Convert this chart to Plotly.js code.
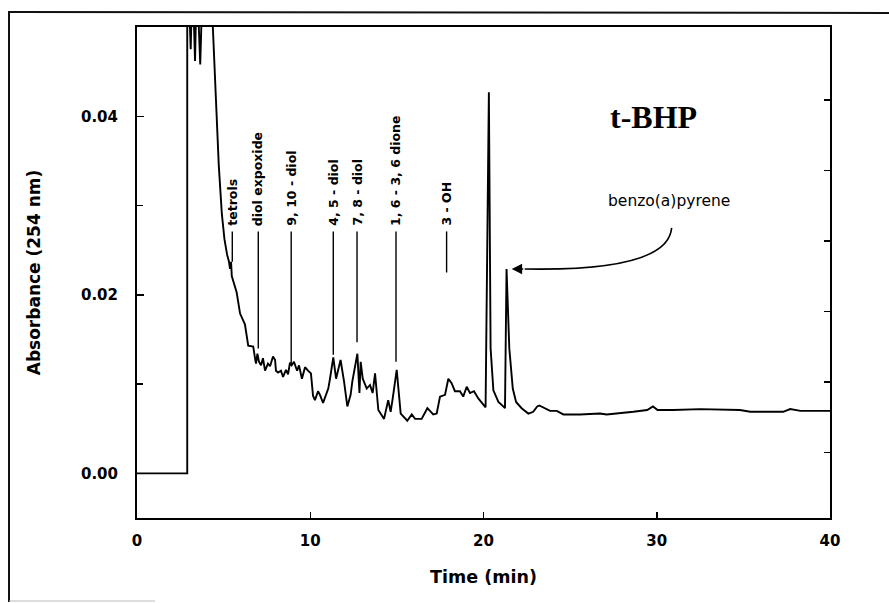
<!DOCTYPE html>
<html>
<head>
<meta charset="utf-8">
<script src="https://cdn.plot.ly/plotly-3.0.1.min.js"></script>
<style>html,body{margin:0;padding:0;background:#fff;}#chart{width:889px;height:603px;}</style>
</head>
<body>
<div id="chart"></div>
<script>
// ---- Data ----
const timeMin = [
  0, 2.9, 2.9, 2.95, 3.1, 3.2, 3.35, 3.45, 3.65, 3.8, 4.2, 4.38,
  4.55, 4.72, 4.90, 5.05, 5.20, 5.31, 5.37, 5.43, 5.47, 5.75, 5.95, 6.14, 6.23, 6.42, 6.71, 6.81, 6.87, 6.95,
  7.04, 7.16, 7.27, 7.39, 7.56, 7.68, 7.85, 7.97, 8.02, 8.14, 8.31, 8.43, 8.60, 8.72, 8.83, 8.93, 9.06, 9.24,
  9.35, 9.52, 9.70, 9.87, 10.04, 10.16, 10.27, 10.45, 10.56, 10.74, 10.91, 11.04, 11.14, 11.33, 11.49, 11.75,
  11.95, 12.14, 12.33, 12.43, 12.72, 12.84, 12.91, 13.03, 13.26, 13.45, 13.60, 13.74, 13.93, 14.26, 14.50,
  14.64, 14.76, 14.99, 15.22, 15.60, 15.86, 16.05, 16.43, 16.76, 17.10, 17.30, 17.49, 17.78, 17.97, 18.16,
  18.35, 18.64, 18.83, 19.03, 19.22, 19.45, 19.70, 20.12, 20.31, 20.41, 20.57, 20.86, 21.14, 21.24, 21.33,
  21.49, 21.69, 21.88, 22.20, 22.59, 22.87, 23.10, 23.22, 23.45, 23.84, 24.23, 24.61, 25.18, 25.57, 26.72,
  27.11, 28.65, 29.45, 29.78, 30.05, 30.96, 32.50, 34.80, 35.40, 37.30, 37.70, 38.30, 40.0
];
const absorbance = [
  0, 0, 0.056, 0.056, 0.0475, 0.056, 0.0462, 0.056, 0.0458, 0.056, 0.058, 0.0505,
  0.0420, 0.0345, 0.0290, 0.0262, 0.0245, 0.0237, 0.0229, 0.0237, 0.0221, 0.0203, 0.0179, 0.0171, 0.0167, 0.0143, 0.0142, 0.0129, 0.0123, 0.0134,
  0.0125, 0.0121, 0.0129, 0.0115, 0.0123, 0.0120, 0.0131, 0.0127, 0.0115, 0.0113, 0.0115, 0.0108, 0.0116, 0.0111, 0.0124, 0.0121, 0.0125, 0.0115,
  0.0121, 0.0106, 0.0119, 0.0115, 0.0112, 0.0087, 0.0082, 0.0092, 0.0088, 0.0079, 0.0089, 0.0095, 0.0106, 0.0130, 0.0106, 0.0127,
  0.0103, 0.0075, 0.0088, 0.0103, 0.0134, 0.0090, 0.0125, 0.0106, 0.0095, 0.0099, 0.0090, 0.0112, 0.0071, 0.0061, 0.0082,
  0.0069, 0.0084, 0.0116, 0.0067, 0.0059, 0.0066, 0.0061, 0.0061, 0.0073, 0.0066, 0.0067, 0.0086, 0.0088, 0.0106, 0.0101,
  0.0092, 0.0092, 0.0086, 0.0097, 0.0090, 0.0092, 0.0084, 0.0074, 0.0427, 0.0140, 0.0093, 0.0080, 0.0075, 0.0073, 0.0229,
  0.0140, 0.0095, 0.0080, 0.0073, 0.0067, 0.0069, 0.0075, 0.0076, 0.0074, 0.0070, 0.0070, 0.0066, 0.0066, 0.0066, 0.0067,
  0.0066, 0.0069, 0.0071, 0.0075, 0.0071, 0.0071, 0.0072, 0.0071, 0.0069, 0.0069, 0.0072, 0.0070, 0.0070
];

// Peak labels
const peakLabels   = ["tetrols", "diol expoxide", "9, 10 - diol", "4, 5 - diol", "7, 8 - diol", "1, 6 - 3, 6 dione", "3 - OH"];
const peakTimes    = [5.5, 7.0, 8.9, 11.33, 12.7, 14.95, 17.87];
const labelLineEnd = [0.0237, 0.0140, 0.0121, 0.0133, 0.0147, 0.0125, 0.0225];
const labelLineTop = 0.0271;
const labelTextBase = 0.0276;

const xTickVals = [0, 10, 20, 30, 40];
const yTickVals = [0.00, 0.02, 0.04];
const rightTickVals = [0, 1, 2, 3, 4, 5];

const plotTitle = "t-BHP";
const compoundName = "benzo(a)pyrene";

// ---- Layout geometry ----
const W = 889, H = 603;
const M = {l: 137, r: 59, t: 27, b: 85};
const pw = W - M.l - M.r, ph = H - M.t - M.b;
const px2paperX = p => (p - M.l) / pw;
const py2paperY = p => (H - M.b - p) / ph;

const trace = {
  x: timeMin, y: absorbance, type: 'scatter', mode: 'lines',
  line: {color: '#000', width: 1.9, shape: 'linear'},
  hoverinfo: 'skip', showlegend: false
};
const dummyRight = {x: [], y: [], yaxis: 'y2', type: 'scatter', showlegend: false, hoverinfo: 'skip'};

const shapes = [];
peakTimes.forEach((t, i) => {
  shapes.push({type: 'line', xref: 'x', yref: 'y', x0: t, x1: t, y0: labelLineTop, y1: labelLineEnd[i],
               line: {color: '#000', width: 1.4}});
});

// benzo(a)pyrene peak (for the arrow)
let bapI = 0, bapV = -1;
timeMin.forEach((t, i) => { if (t > 21 && t < 22 && absorbance[i] > bapV) { bapV = absorbance[i]; bapI = i; } });
const tipX = timeMin[bapI] + 0.3;
const arrowTailX = tipX + 0.75;
shapes.push({type: 'path', xref: 'x', yref: 'y',
  path: `M 30.86 0.0275 Q 30.65 0.0226 ${arrowTailX} ${bapV}`,
  line: {color: '#000', width: 1.6}});

// outer frame of the scanned figure
shapes.push({type: 'line', xref: 'paper', yref: 'paper', x0: px2paperX(9), x1: px2paperX(9), y0: py2paperY(11), y1: py2paperY(602), line: {color: '#111', width: 2}});
shapes.push({type: 'line', xref: 'paper', yref: 'paper', x0: px2paperX(9), x1: px2paperX(889), y0: py2paperY(12), y1: py2paperY(13), line: {color: '#111', width: 2}});
shapes.push({type: 'line', xref: 'paper', yref: 'paper', x0: px2paperX(9), x1: px2paperX(155), y0: py2paperY(601), y1: py2paperY(601), line: {color: '#bbb', width: 1}});

const lblFont = {family: 'DejaVu Sans', size: 12.5, color: '#000', weight: 'bold'};
const annotations = peakLabels.map((s, i) => ({
  x: peakTimes[i], y: labelTextBase, xref: 'x', yref: 'y', text: s, showarrow: false,
  textangle: -90, xanchor: 'center', yanchor: 'bottom', font: lblFont, borderpad: 0
}));
annotations.push({x: 29.8, y: 0.0399, xref: 'x', yref: 'y', text: '<b>' + plotTitle + '</b>', showarrow: false,
  font: {family: 'Liberation Serif', size: 32, color: '#000'}, xanchor: 'center', yanchor: 'middle'});
annotations.push({x: 30.71, y: 0.0305, xref: 'x', yref: 'y', text: compoundName, showarrow: false,
  font: {family: 'DejaVu Sans', size: 15.5, color: '#000'}, xanchor: 'center', yanchor: 'middle'});
annotations.push({x: tipX, y: bapV, xref: 'x', yref: 'y', text: '', showarrow: true,
  axref: 'x', ayref: 'y', ax: arrowTailX, ay: bapV,
  arrowhead: 2, arrowsize: 1.3, arrowwidth: 1.6, arrowcolor: '#000', standoff: 0});

const tickFont = {family: 'DejaVu Sans', size: 15, color: '#000', weight: 'bold'};
const layout = {
  width: W, height: H, margin: M,
  paper_bgcolor: '#fff', plot_bgcolor: '#fff',
  showlegend: false,
  xaxis: {
    range: [0, 40], tickvals: xTickVals, ticktext: xTickVals.map(String),
    ticks: 'inside', ticklen: 6, tickwidth: 1.5, tickcolor: '#000',
    showline: true, linecolor: '#000', linewidth: 2, mirror: true,
    showgrid: false, zeroline: false, tickfont: tickFont, ticklabelstandoff: 8,
    title: {text: 'Time (min)', font: {family: 'DejaVu Sans', size: 17.5, color: '#000', weight: 'bold'}, standoff: 22}
  },
  yaxis: {
    range: [-0.005, 0.05], tickvals: yTickVals, ticktext: yTickVals.map(v => v.toFixed(2)),
    ticks: 'inside', ticklen: 7, tickwidth: 1.5, tickcolor: '#000',
    minor: {tickvals: [0.01, 0.03], ticks: 'inside', ticklen: 6, tickwidth: 1.5, tickcolor: '#000', showgrid: false},
    showline: true, linecolor: '#000', linewidth: 2, mirror: true,
    showgrid: false, zeroline: false, tickfont: tickFont, ticklabelstandoff: 14,
    title: {text: 'Absorbance (254 nm)', font: {family: 'DejaVu Sans', size: 17, color: '#000', weight: 'bold'}, standoff: 36}
  },
  yaxis2: {
    overlaying: 'y', side: 'right', range: [-0.929, 6.035], tickvals: rightTickVals,
    showticklabels: false, ticks: 'inside', ticklen: 6, tickwidth: 1.5, tickcolor: '#000',
    showline: false, showgrid: false, zeroline: false
  },
  shapes: shapes,
  annotations: annotations
};

Plotly.newPlot('chart', [trace, dummyRight], layout, {staticPlot: true, displayModeBar: false});
</script>
</body>
</html>
